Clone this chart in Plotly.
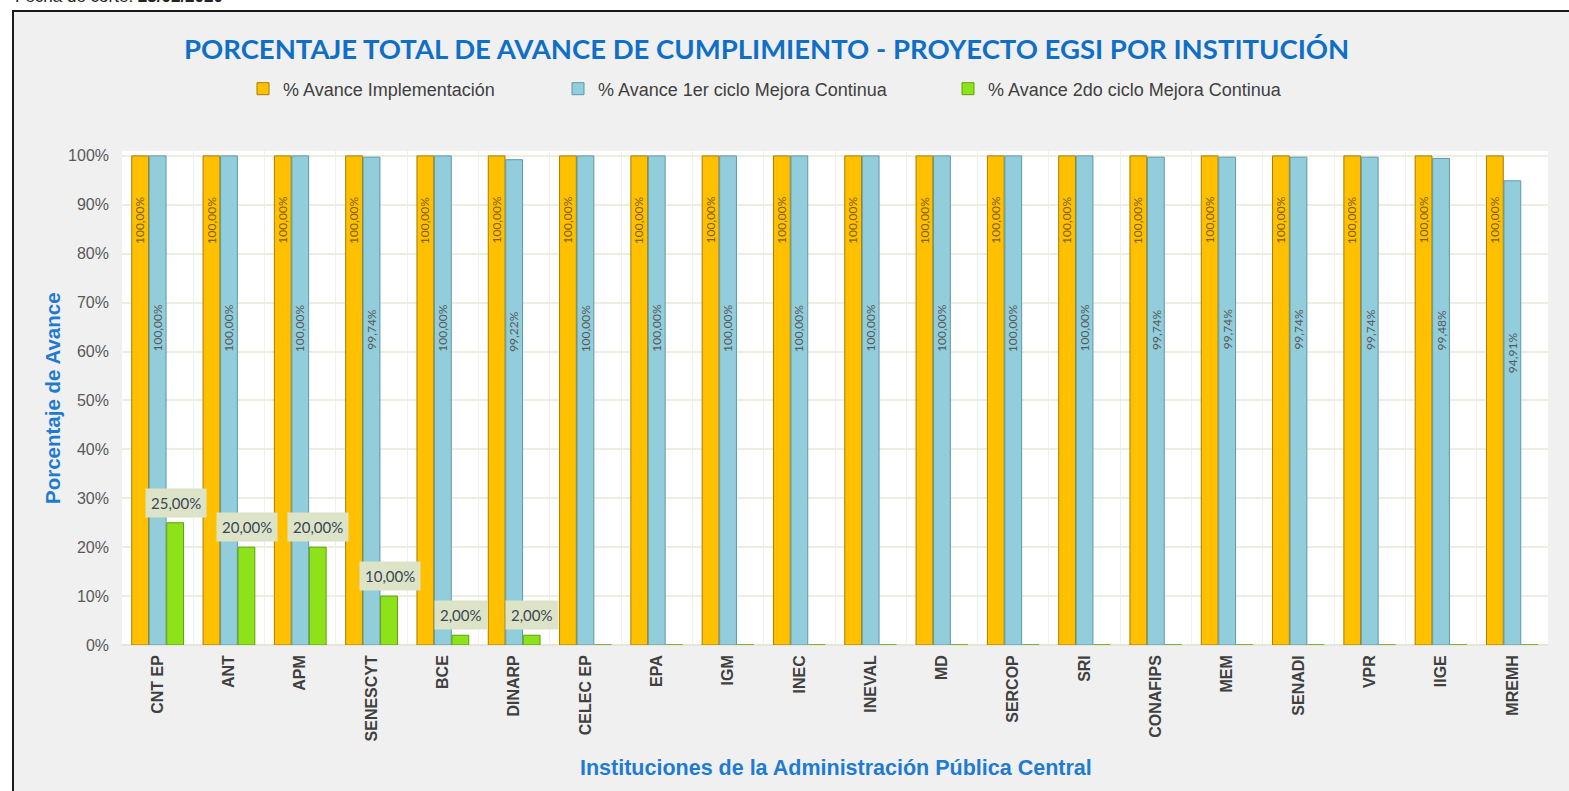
import plotly.graph_objects as go

# datos
instituciones = ["CNT EP", "ANT", "APM", "SENESCYT", "BCE", "DINARP", "CELEC EP", "EPA", "IGM", "INEC",
                 "INEVAL", "MD", "SERCOP", "SRI", "CONAFIPS", "MEM", "SENADI", "VPR", "IIGE", "MREMH"]
avance_impl = [100, 100, 100, 100, 100, 100, 100, 100, 100, 100,
               100, 100, 100, 100, 100, 100, 100, 100, 100, 100]
avance_ciclo1 = [100, 100, 100, 99.74, 100, 99.22, 100, 100, 100, 100,
                 100, 100, 100, 100, 99.74, 99.74, 99.74, 99.74, 99.48, 94.91]
avance_ciclo2 = [25, 20, 20, 10, 2, 2, 0, 0, 0, 0,
                 0, 0, 0, 0, 0, 0, 0, 0, 0, 0]
series_names = ["% Avance Implementación", "% Avance 1er ciclo Mejora Continua", "% Avance 2do ciclo Mejora Continua"]

W, H = 1569, 791
L, R, T, B = 122, 21, 151, 146
pw, ph = W - L - R, H - T - B


def px(x):
    return (x - L) / pw


def py(y):
    return (H - B - y) / ph


def fmt(v):
    return f"{v:.2f}".replace(".", ",") + "%"


fig = go.Figure()
fig.add_trace(go.Bar(x=instituciones, y=[v / 100 for v in avance_impl], name=series_names[0],
                     marker=dict(color="#FFC000", line=dict(color="#A67C00", width=1)), legend="legend2"))
fig.add_trace(go.Bar(x=instituciones, y=[v / 100 for v in avance_ciclo1], name=series_names[1],
                     marker=dict(color="#92CDDC", line=dict(color="#5E98A8", width=1)), legend="legend3"))
fig.add_trace(go.Bar(x=instituciones, y=[v / 100 for v in avance_ciclo2], name=series_names[2],
                     marker=dict(color="#8EE21A", line=dict(color="#5FA00E", width=1)), legend="legend4"))

annotations = []
for inst, a, b, c in zip(instituciones, avance_impl, avance_ciclo1, avance_ciclo2):
    annotations.append(dict(x=inst, y=a / 100, xref="x", yref="y", text=fmt(a), textangle=-90,
                            showarrow=False, xshift=-17.5, yshift=-64,
                            font=dict(family="Lato", size=12, color="#7F6000")))
    annotations.append(dict(x=inst, y=b / 100, xref="x", yref="y", text=fmt(b), textangle=-90,
                            showarrow=False, xshift=0, yshift=-172,
                            font=dict(family="Lato", size=12, color="#595959")))
    if c > 0:
        annotations.append(dict(x=inst, y=c / 100, xref="x", yref="y", text=fmt(c),
                                showarrow=False, xshift=18, yshift=5, yanchor="bottom",
                                bgcolor="#DCE3C6", borderpad=5,
                                font=dict(family="Lato", size=15, color="#3A4656")))

annotations += [
    dict(x=px(766), y=py(48), xref="paper", yref="paper", showarrow=False, xanchor="center", yanchor="middle",
         text="<b>PORCENTAJE TOTAL DE AVANCE DE CUMPLIMIENTO - PROYECTO EGSI POR INSTITUCIÓN</b>",
         font=dict(family="Lato", size=27.5, color="#0F6FC6")),
    dict(x=px(52), y=py(398), xref="paper", yref="paper", showarrow=False, textangle=-90,
         xanchor="center", yanchor="middle",
         text="<b>Porcentaje de Avance</b>", font=dict(family="Liberation Sans", size=20.5, color="#1F7BD1")),
    dict(x=px(836), y=py(768), xref="paper", yref="paper", showarrow=False, xanchor="center", yanchor="middle",
         text="<b>Instituciones de la Administración Pública Central</b>",
         font=dict(family="Liberation Sans", size=21.5, color="#1F7BD1")),
    dict(x=px(13), y=py(-4), xref="paper", yref="paper", showarrow=False, xanchor="left", yanchor="middle",
         text="Fecha de corte: <b>23/02/2020</b>", font=dict(family="Liberation Sans", size=17, color="#222222")),
]

shapes = [
    dict(type="rect", xref="paper", yref="paper", x0=px(-5), x1=px(12), y0=py(800), y1=py(-5),
         fillcolor="white", line=dict(width=0), layer="above"),
    dict(type="rect", xref="paper", yref="paper", x0=px(-5), x1=px(1575), y0=py(10), y1=py(-5),
         fillcolor="white", line=dict(width=0), layer="above"),
    dict(type="line", xref="paper", yref="paper", x0=px(13), x1=px(13), y0=py(10), y1=py(800),
         line=dict(color="#1A1A1A", width=2), layer="above"),
    dict(type="line", xref="paper", yref="paper", x0=px(12), x1=px(1575), y0=py(11), y1=py(11),
         line=dict(color="#1A1A1A", width=2), layer="above"),
]

legend_style = dict(orientation="h", xref="paper", yref="paper", yanchor="middle", xanchor="left", y=py(89),
                    bgcolor="rgba(0,0,0,0)", font=dict(family="Liberation Sans", size=18, color="#404040"))

fig.update_layout(
    width=W, height=H,
    margin=dict(l=L, r=R, t=T, b=B),
    paper_bgcolor="#F0F0F0", plot_bgcolor="white",
    barmode="group", bargap=0.264, bargroupgap=0.04,
    annotations=annotations, shapes=shapes,
    showlegend=True,
    legend2=dict(x=px(243), **legend_style),
    legend3=dict(x=px(558), **legend_style),
    legend4=dict(x=px(948), **legend_style),
    xaxis=dict(tickangle=-90, tickfont=dict(family="Liberation Sans", size=16, color="#404040"),
               tickprefix="<b>", ticksuffix="</b>", showgrid=True, gridcolor="#F1F1EC", tickson="boundaries",
               ticks="", showline=False, ticklabelstandoff=6),
    yaxis=dict(range=[0, 1.01], tickvals=[i / 10 for i in range(11)], tickformat=".0%",
               tickfont=dict(family="Liberation Sans", size=16, color="#595959"),
               showgrid=True, gridcolor="#EEEDE2", gridwidth=1.5, zeroline=True, zerolinecolor="#E6E5DA",
               ticklabelstandoff=12),
)

fig.write_html("out.html", config={"displayModeBar": False},
               post_script="document.body.style.margin='0px';")
